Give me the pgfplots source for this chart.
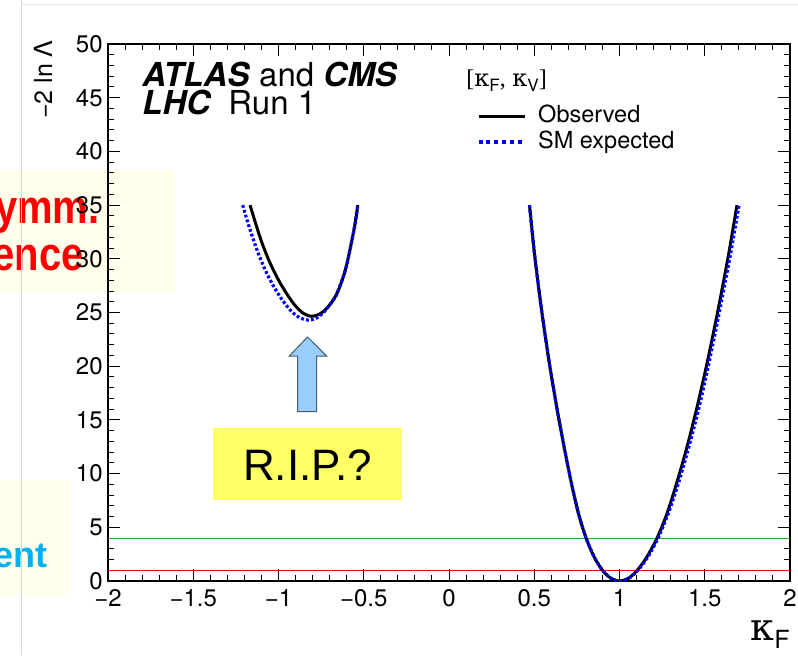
\documentclass[border=0pt]{standalone}
\usepackage{graphicx}
\usepackage{pgfplots}
\pgfplotsset{compat=1.18}
\usepackage{pgfplotstable}
\usepackage{fontspec}
\setmainfont{TeX Gyre Heros}
\newfontfamily\slidefont{Liberation Sans}
\newfontfamily\grk{DejaVu Serif}
\newfontfamily\brk{Liberation Serif}

\definecolor{paleyellow}{RGB}{255,255,236}
\definecolor{ripyellow}{RGB}{255,255,102}
\definecolor{arrowblue}{RGB}{153,204,255}
\definecolor{arrowedge}{RGB}{70,90,110}
\definecolor{slidered}{RGB}{255,0,0}
\definecolor{slidecyan}{RGB}{0,176,240}
\definecolor{lvlgreen}{RGB}{40,170,40}
\definecolor{framegrey}{RGB}{215,215,215}

% -2 ln Lambda scan around kappa_F = 1 (observed)
\pgfplotstableread{
x y
0.472 35.0
0.503 30.25
0.545 25.0
0.589 20.25
0.634 16.0
0.678 12.25
0.7195 9.0
0.760 6.25
0.804 4.0
0.851 2.25
0.900 1.0
0.950 0.25
1.000 0.0
1.052 0.25
1.104 1.0
1.161 2.25
1.220 4.0
1.278 6.25
1.333 9.0
1.392 12.25
1.452 16.0
1.513 20.25
1.575 25.0
1.638 30.25
1.689 35.0
}\obsright

% SM expectation around kappa_F = 1
\pgfplotstableread{
x y
0.472 35.0
0.503 30.25
0.545 25.0
0.589 20.25
0.634 16.0
0.678 12.25
0.7195 9.0
0.760 6.25
0.804 4.0
0.851 2.25
0.900 1.0
0.950 0.25
1.000 0.0
1.054 0.25
1.108 1.0
1.1665 2.25
1.226 4.0
1.285 6.25
1.3435 9.0
1.4025 12.25
1.464 16.0
1.524 20.25
1.585 25.0
1.649 30.25
1.701 35.0
}\expright

% local minimum at negative kappa_F (observed)
\pgfplotstableread{
x y
-1.167 35.0
-1.105 31.85
-1.055 29.81
-1.005 28.17
-0.955 26.83
-0.905 25.70
-0.855 24.93
-0.805 24.65
-0.755 24.89
-0.705 25.61
-0.655 26.85
-0.605 29.13
-0.555 32.9
-0.535 35.0
}\obsleft

% local minimum at negative kappa_F (SM expected)
\pgfplotstableread{
x y
-1.210 35.0
-1.175 33.12
-1.125 30.78
-1.075 28.86
-1.025 27.34
-0.975 26.10
-0.925 25.12
-0.875 24.51
-0.825 24.30
-0.775 24.50
-0.725 25.20
-0.675 26.25
-0.655 26.85
-0.605 29.13
-0.555 32.9
-0.535 35.0
}\expleft

\begin{document}
\begin{tikzpicture}
\useasboundingbox (0pt,0pt) rectangle (399pt,-327.5pt);
\clip (0pt,0pt) rectangle (399pt,-327.5pt);

% slide background pieces behind the plot
\begin{scope}[x=0.5pt,y=-0.5pt]
  \fill[paleyellow] (0,170) rectangle (175,292);
  \fill[paleyellow] (0,480) rectangle (70,595);
  \node[anchor=base east, inner sep=0pt, text=slidered,
        font=\slidefont\bfseries\fontsize{20}{22}\selectfont]
        at (100,223) {\scalebox{1}[1.18]{ymm.}};
  \node[anchor=base east, inner sep=0pt, text=slidered,
        font=\slidefont\bfseries\fontsize{20}{22}\selectfont]
        at (84,270) {\scalebox{1}[1.18]{ence}};
  \node[anchor=base east, inner sep=0pt, text=slidecyan,
        font=\slidefont\bfseries\fontsize{18}{20}\selectfont]
        at (48,567) {ent};
  \draw[framegrey, line width=0.5pt] (21,0) -- (21,655);
  \draw[framegrey!70, line width=0.5pt] (21,4) -- (798,4);
\end{scope}

\begin{axis}[
  at={(54pt,-290.5pt)}, anchor=south west,
  scale only axis, width=341pt, height=268.5pt,
  xmin=-2, xmax=2, ymin=0, ymax=50,
  xtick={-2,-1.5,...,2},
  xticklabels={−2,−1.5,−1,−0.5,0,0.5,1,1.5,2},
  ytick={0,5,...,50},
  minor x tick num=4, minor y tick num=4,
  tick align=inside, tick pos=both,
  major tick length=6pt, minor tick length=3pt,
  axis line style={line width=0.9pt},
  every tick/.append style={black, line width=0.5pt},
  tick label style={font=\fontsize{12}{14}\selectfont},
  /pgf/number format/assume math mode=true,
  xticklabel style={inner sep=0pt, yshift=-4pt},
  yticklabel style={inner sep=0pt, xshift=-2.5pt},
  xlabel={{\grk κ}\raisebox{-4pt}{\fontsize{12.5}{13}\selectfont F}},
  xlabel style={at={(axis description cs:1,-0.110)}, anchor=base east,
                inner sep=0pt, font=\fontsize{19}{21}\selectfont},
  ylabel={−2 ln Λ},
  ylabel style={at={(axis description cs:-0.0953,1.0074)}, anchor=east,
                inner sep=0pt, font=\fontsize{12.5}{14}\selectfont},
  legend style={draw=none, fill=none,
                at={(axis description cs:0.5411,0.8864)}, anchor=north west,
                inner sep=0pt, outer sep=0pt, row sep=2pt,
                font=\fontsize{11.75}{13}\selectfont,
                nodes={inner sep=0pt, text height=8.5pt, text depth=2.5pt},
                /tikz/every odd column/.append style={column sep=6pt}},
  legend cell align=left,
  legend image code/.code={\draw[#1] (0pt,0pt) -- (23pt,0pt);},
]
% 68% and 95% CL reference levels
\addplot[slidered, line width=0.5pt, forget plot] coordinates {(-2,1) (2,1)};
\addplot[lvlgreen, line width=0.5pt, forget plot] coordinates {(-2,4) (2,4)};

\addplot[black, line width=1.5pt, smooth] table[x=x,y=y] {\obsright};
\addlegendentry{Observed}
\addplot[blue, line width=1.6pt, smooth, dash pattern=on 1.4pt off 1.1pt,
         legend image post style={dash pattern=on 2pt off 1.9pt}]
         table[x=x,y=y] {\expright};
\addlegendentry{SM expected}
\addplot[black, line width=1.5pt, smooth, forget plot] table[x=x,y=y] {\obsleft};
\addplot[blue, line width=1.6pt, smooth, dash pattern=on 1.4pt off 1.1pt, forget plot] table[x=x,y=y] {\expleft};

\node[anchor=base west, inner sep=0pt, font=\fontsize{16.5}{18}\selectfont]
  at (axis description cs:0.0499,0.9218)
  {\textbf{\textit{ATLAS}} and \textbf{\textit{CMS}}};
\node[anchor=base west, inner sep=0pt, font=\fontsize{16.5}{18}\selectfont]
  at (axis description cs:0.0499,0.8696)
  {\textbf{\textit{LHC}}\hspace{4pt} Run 1};
\node[anchor=base west, inner sep=0pt, font=\fontsize{12}{13}\selectfont]
  at (axis description cs:0.5249,0.9218)
  {{\brk[}{\grk κ}\raisebox{-2.5pt}{\fontsize{8.5}{9}\selectfont F}{\brk,} {\grk κ}\raisebox{-2.5pt}{\fontsize{8.5}{9}\selectfont V}{\brk]}};
\end{axis}

% annotation on top of the plot
\begin{scope}[x=0.5pt,y=-0.5pt]
  \fill[ripyellow] (213,428) rectangle (402,500);
  \node[anchor=base, inner sep=0pt, font=\slidefont\fontsize{22}{24}\selectfont]
        at (307.5,480) {R.I.P.?};
  \filldraw[fill=arrowblue, draw=arrowedge, line width=0.5pt]
        (297.7,411.7) -- (316.7,411.7) -- (316.7,356) -- (326.7,356)
        -- (307.5,337) -- (289.3,356) -- (297.7,356) -- cycle;
\end{scope}
\end{tikzpicture}
\end{document}
